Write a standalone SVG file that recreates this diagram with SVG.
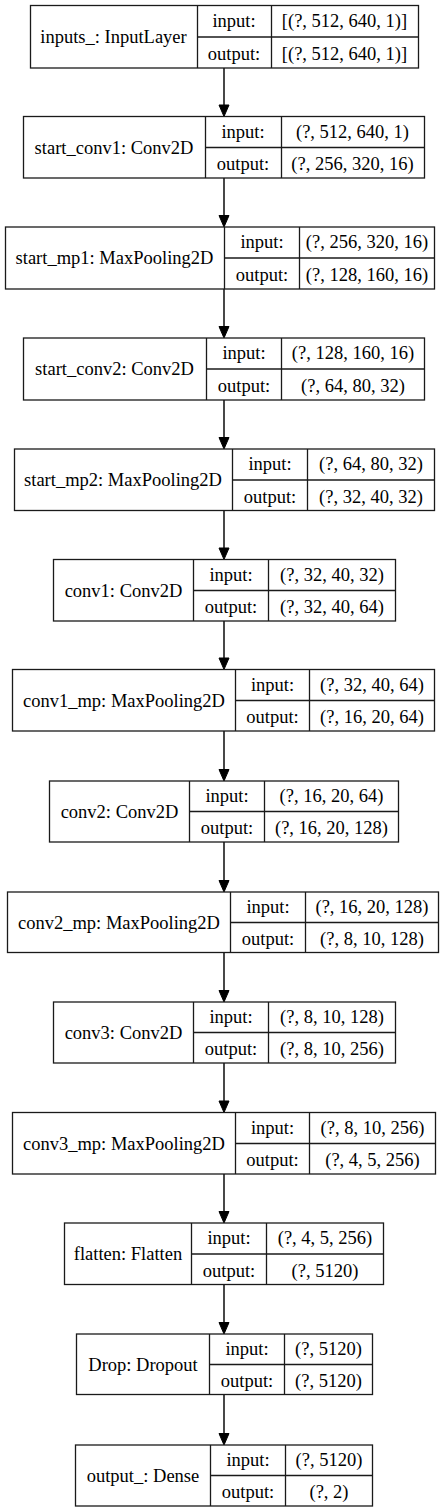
<svg xmlns="http://www.w3.org/2000/svg" width="448" height="1512" viewBox="0 0 448 1512">
<style>
.b{fill:#fff;stroke:#1a1a1a;stroke-width:1.3}
.l{stroke:#1a1a1a;stroke-width:1.3;fill:none}
text{font-family:"Liberation Serif", serif;font-size:18.5px;fill:#000;text-anchor:middle}
.e{stroke:#1a1a1a;stroke-width:1.6;fill:none}
.h{fill:#000;stroke:#000;stroke-width:1}
</style>
<rect width="448" height="1512" fill="#fff"/>
<g id="connectors">
<line class="e" x1="224" y1="68" x2="224" y2="105"/><polygon class="h" points="219,105 229,105 224,116.5"/>
<line class="e" x1="224" y1="178" x2="224" y2="215.5"/><polygon class="h" points="219,215.5 229,215.5 224,227"/>
<line class="e" x1="224" y1="289" x2="224" y2="326.5"/><polygon class="h" points="219,326.5 229,326.5 224,338"/>
<line class="e" x1="224" y1="400" x2="224" y2="437.5"/><polygon class="h" points="219,437.5 229,437.5 224,449"/>
<line class="e" x1="224" y1="510.5" x2="224" y2="548"/><polygon class="h" points="219,548 229,548 224,559.5"/>
<line class="e" x1="224" y1="621" x2="224" y2="658"/><polygon class="h" points="219,658 229,658 224,669.5"/>
<line class="e" x1="224" y1="731" x2="224" y2="769.5"/><polygon class="h" points="219,769.5 229,769.5 224,781"/>
<line class="e" x1="224" y1="842" x2="224" y2="880.5"/><polygon class="h" points="219,880.5 229,880.5 224,892"/>
<line class="e" x1="224" y1="952.5" x2="224" y2="990.5"/><polygon class="h" points="219,990.5 229,990.5 224,1002"/>
<line class="e" x1="224" y1="1063" x2="224" y2="1101"/><polygon class="h" points="219,1101 229,1101 224,1112.5"/>
<line class="e" x1="224" y1="1174" x2="224" y2="1211.5"/><polygon class="h" points="219,1211.5 229,1211.5 224,1223"/>
<line class="e" x1="224" y1="1284.5" x2="224" y2="1322.5"/><polygon class="h" points="219,1322.5 229,1322.5 224,1334"/>
<line class="e" x1="224" y1="1394.5" x2="224" y2="1433.5"/><polygon class="h" points="219,1433.5 229,1433.5 224,1445"/>
</g>
<g id="n1" transform="translate(0,5.5)">
<rect class="b" x="30.5" y="0" width="388" height="62.5"/>
<line class="l" x1="197.5" y1="0" x2="197.5" y2="62.5"/><line class="l" x1="271.5" y1="0" x2="271.5" y2="62.5"/><line class="l" x1="197.5" y1="31.5" x2="418.5" y2="31.5"/>
<text x="113.5" y="37">inputs_: InputLayer</text>
<text x="234" y="21">input:</text><text x="234" y="54">output:</text>
<text x="344.5" y="21">[(?, 512, 640, 1)]</text><text x="344.5" y="54">[(?, 512, 640, 1)]</text>
</g>
<g id="n2" transform="translate(0,116.5)">
<rect class="b" x="23.5" y="0" width="401" height="61.5"/>
<line class="l" x1="205.5" y1="0" x2="205.5" y2="61.5"/><line class="l" x1="281.5" y1="0" x2="281.5" y2="61.5"/><line class="l" x1="205.5" y1="31" x2="424.5" y2="31"/>
<text x="114" y="37">start_conv1: Conv2D</text>
<text x="243" y="21">input:</text><text x="243" y="53.5">output:</text>
<text x="352.5" y="21">(?, 512, 640, 1)</text><text x="352.5" y="53.5">(?, 256, 320, 16)</text>
</g>
<g id="n3" transform="translate(0,227)">
<rect class="b" x="5.5" y="0" width="429" height="62"/>
<line class="l" x1="224.5" y1="0" x2="224.5" y2="62"/><line class="l" x1="299.5" y1="0" x2="299.5" y2="62"/><line class="l" x1="224.5" y1="31" x2="434.5" y2="31"/>
<text x="114.5" y="37">start_mp1: MaxPooling2D</text>
<text x="262" y="21">input:</text><text x="262" y="53.5">output:</text>
<text x="367" y="21">(?, 256, 320, 16)</text><text x="367" y="53.5">(?, 128, 160, 16)</text>
</g>
<g id="n4" transform="translate(0,338)">
<rect class="b" x="23.5" y="0" width="401" height="62"/>
<line class="l" x1="206.5" y1="0" x2="206.5" y2="62"/><line class="l" x1="281.5" y1="0" x2="281.5" y2="62"/><line class="l" x1="206.5" y1="31" x2="424.5" y2="31"/>
<text x="114.5" y="37">start_conv2: Conv2D</text>
<text x="244" y="21">input:</text><text x="244" y="53.5">output:</text>
<text x="353" y="21">(?, 128, 160, 16)</text><text x="353" y="53.5">(?, 64, 80, 32)</text>
</g>
<g id="n5" transform="translate(0,449)">
<rect class="b" x="14.5" y="0" width="420" height="61.5"/>
<line class="l" x1="232.5" y1="0" x2="232.5" y2="61.5"/><line class="l" x1="307.5" y1="0" x2="307.5" y2="61.5"/><line class="l" x1="232.5" y1="31" x2="434.5" y2="31"/>
<text x="123" y="37">start_mp2: MaxPooling2D</text>
<text x="270" y="21">input:</text><text x="270" y="53.5">output:</text>
<text x="371" y="21">(?, 64, 80, 32)</text><text x="371" y="53.5">(?, 32, 40, 32)</text>
</g>
<g id="n6" transform="translate(0,559.5)">
<rect class="b" x="53.5" y="0" width="342" height="61.5"/>
<line class="l" x1="193.5" y1="0" x2="193.5" y2="61.5"/><line class="l" x1="268.5" y1="0" x2="268.5" y2="61.5"/><line class="l" x1="193.5" y1="31" x2="395.5" y2="31"/>
<text x="123.5" y="37">conv1: Conv2D</text>
<text x="231" y="21">input:</text><text x="231" y="53.5">output:</text>
<text x="332" y="21">(?, 32, 40, 32)</text><text x="332" y="53.5">(?, 32, 40, 64)</text>
</g>
<g id="n7" transform="translate(0,669.5)">
<rect class="b" x="12.5" y="0" width="422" height="61.5"/>
<line class="l" x1="235.5" y1="0" x2="235.5" y2="61.5"/><line class="l" x1="309.5" y1="0" x2="309.5" y2="61.5"/><line class="l" x1="235.5" y1="31" x2="434.5" y2="31"/>
<text x="124" y="37">conv1_mp: MaxPooling2D</text>
<text x="272.5" y="21">input:</text><text x="272.5" y="53.5">output:</text>
<text x="372" y="21">(?, 32, 40, 64)</text><text x="372" y="53.5">(?, 16, 20, 64)</text>
</g>
<g id="n8" transform="translate(0,781)">
<rect class="b" x="49.5" y="0" width="349" height="61"/>
<line class="l" x1="189.5" y1="0" x2="189.5" y2="61"/><line class="l" x1="264.5" y1="0" x2="264.5" y2="61"/><line class="l" x1="189.5" y1="30.5" x2="398.5" y2="30.5"/>
<text x="119.5" y="37">conv2: Conv2D</text>
<text x="227" y="21">input:</text><text x="227" y="53">output:</text>
<text x="331.5" y="21">(?, 16, 20, 64)</text><text x="331.5" y="53">(?, 16, 20, 128)</text>
</g>
<g id="n9" transform="translate(0,892)">
<rect class="b" x="7.5" y="0" width="431" height="60.5"/>
<line class="l" x1="230.5" y1="0" x2="230.5" y2="60.5"/><line class="l" x1="305.5" y1="0" x2="305.5" y2="60.5"/><line class="l" x1="230.5" y1="30.5" x2="438.5" y2="30.5"/>
<text x="119" y="37">conv2_mp: MaxPooling2D</text>
<text x="268" y="21">input:</text><text x="268" y="53">output:</text>
<text x="372" y="21">(?, 16, 20, 128)</text><text x="372" y="53">(?, 8, 10, 128)</text>
</g>
<g id="n10" transform="translate(0,1002)">
<rect class="b" x="53.5" y="0" width="342" height="61"/>
<line class="l" x1="193.5" y1="0" x2="193.5" y2="61"/><line class="l" x1="268.5" y1="0" x2="268.5" y2="61"/><line class="l" x1="193.5" y1="30.5" x2="395.5" y2="30.5"/>
<text x="123.5" y="37">conv3: Conv2D</text>
<text x="231" y="21">input:</text><text x="231" y="53">output:</text>
<text x="332" y="21">(?, 8, 10, 128)</text><text x="332" y="53">(?, 8, 10, 256)</text>
</g>
<g id="n11" transform="translate(0,1112.5)">
<rect class="b" x="12.5" y="0" width="423" height="61.5"/>
<line class="l" x1="235.5" y1="0" x2="235.5" y2="61.5"/><line class="l" x1="309.5" y1="0" x2="309.5" y2="61.5"/><line class="l" x1="235.5" y1="31" x2="435.5" y2="31"/>
<text x="124" y="37">conv3_mp: MaxPooling2D</text>
<text x="272.5" y="21">input:</text><text x="272.5" y="53.5">output:</text>
<text x="372.5" y="21">(?, 8, 10, 256)</text><text x="372.5" y="53.5">(?, 4, 5, 256)</text>
</g>
<g id="n12" transform="translate(0,1223)">
<rect class="b" x="64.5" y="0" width="319" height="61.5"/>
<line class="l" x1="191.5" y1="0" x2="191.5" y2="61.5"/><line class="l" x1="266.5" y1="0" x2="266.5" y2="61.5"/><line class="l" x1="191.5" y1="31" x2="383.5" y2="31"/>
<text x="128" y="37">flatten: Flatten</text>
<text x="229" y="21">input:</text><text x="229" y="53.5">output:</text>
<text x="325" y="21">(?, 4, 5, 256)</text><text x="325" y="53.5">(?, 5120)</text>
</g>
<g id="n13" transform="translate(0,1334)">
<rect class="b" x="76.5" y="0" width="296" height="60.5"/>
<line class="l" x1="209.5" y1="0" x2="209.5" y2="60.5"/><line class="l" x1="284.5" y1="0" x2="284.5" y2="60.5"/><line class="l" x1="209.5" y1="30.5" x2="372.5" y2="30.5"/>
<text x="143" y="37">Drop: Dropout</text>
<text x="247" y="21">input:</text><text x="247" y="53">output:</text>
<text x="328.5" y="21">(?, 5120)</text><text x="328.5" y="53">(?, 5120)</text>
</g>
<g id="n14" transform="translate(0,1445)">
<rect class="b" x="75.5" y="0" width="297" height="61"/>
<line class="l" x1="210.5" y1="0" x2="210.5" y2="61"/><line class="l" x1="285.5" y1="0" x2="285.5" y2="61"/><line class="l" x1="210.5" y1="30.5" x2="372.5" y2="30.5"/>
<text x="143" y="37">output_: Dense</text>
<text x="248" y="21">input:</text><text x="248" y="53">output:</text>
<text x="329" y="21">(?, 5120)</text><text x="329" y="53">(?, 2)</text>
</g>
</svg>
